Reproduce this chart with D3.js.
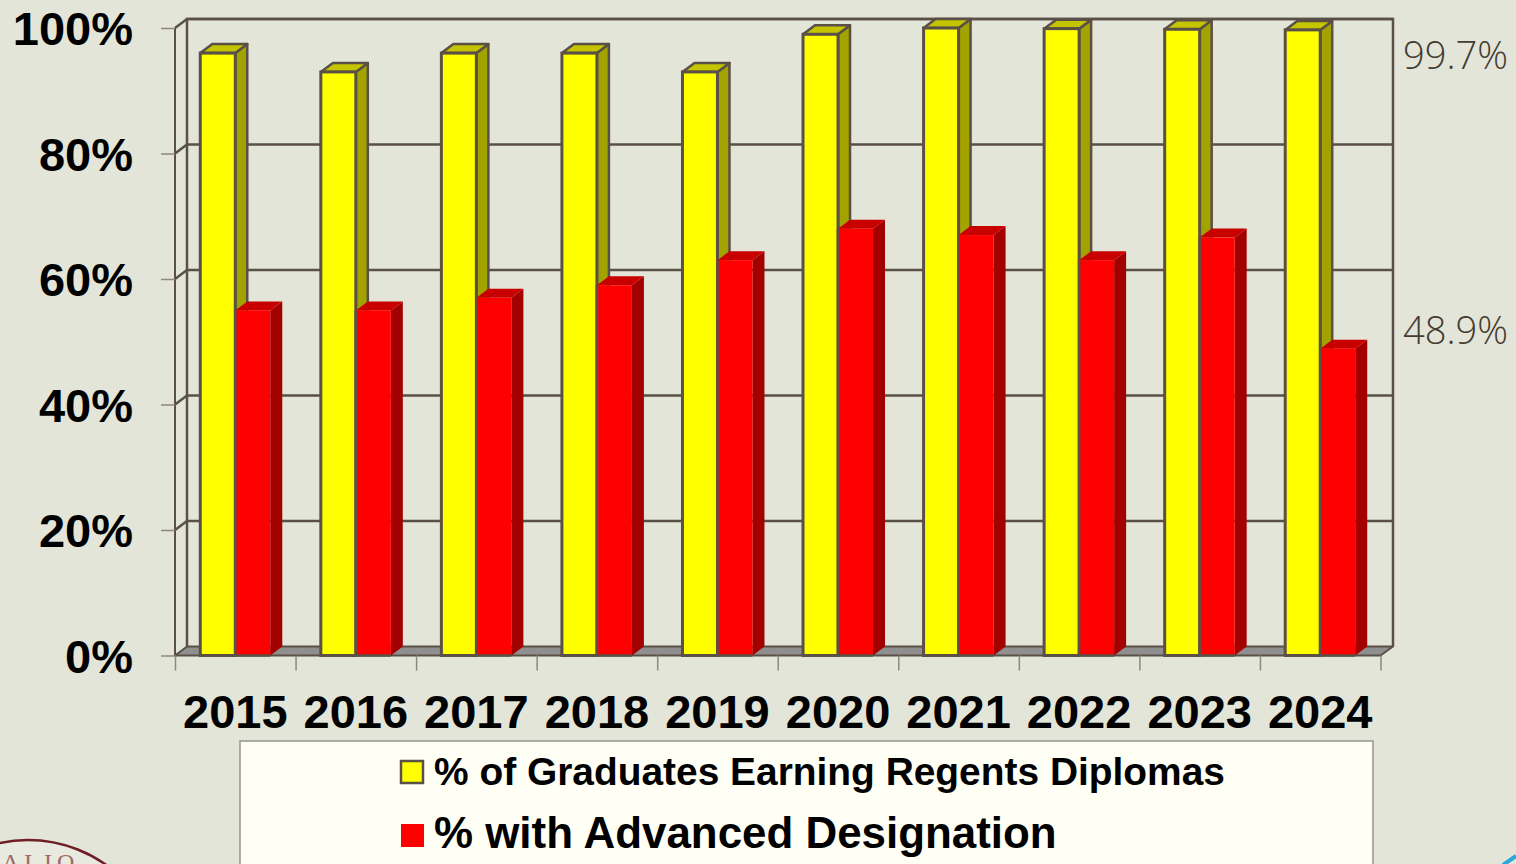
<!DOCTYPE html>
<html>
<head>
<meta charset="utf-8">
<script src="https://cdn.jsdelivr.net/npm/d3@7"></script>
<style>
  html, body { margin: 0; padding: 0; background: #E3E5D9; overflow: hidden; }
  svg { display: block; }
  text { font-family: "Liberation Sans", Arial, sans-serif; }
</style>
</head>
<body>
<svg id="chart" width="1516" height="864"></svg>
<script>
// Values
const years     = ['2015','2016','2017','2018','2019','2020','2021','2022','2023','2024'];
const regents   = [96, 93, 96, 96, 93, 99, 100, 99.9, 99.8, 99.7];
const advanced  = [55, 55, 57, 59, 63, 68, 67, 63, 66.6, 48.9];
const yTicks    = [0, 20, 40, 60, 80, 100];
const endLabels = ['99.7%', '48.9%'];
const legendRows = ['% of Graduates Earning Regents Diplomas', '% with Advanced Designation'];

const LINE = '#5A5046';
const DX = 12, DY = -9;   // 3D depth offset
const BAR_W = 35;

const svg = d3.select('#chart');

const x = d3.scaleBand().domain(years).range([175, 1380.5]);
const y = d3.scaleLinear().domain([0, 100]).range([655.5, 28]);

// ── Walls and floor ───────────────────────────────────────────────────────
const yFloor = y(0), yTop = y(100);
const grid = svg.append('g');

grid.selectAll('.wall').data(yTicks.slice(1)).enter().append('path')
  .attr('class', 'wall').attr('fill', 'none').attr('stroke', LINE).attr('stroke-width', 2.5)
  .attr('d', d => `M175,${y(d)}L${175 + DX},${y(d) + DY}L${1381 + DX},${y(d) + DY}`);

grid.append('path')
  .attr('fill', '#8F8F8F').attr('stroke', LINE).attr('stroke-width', 2)
  .attr('stroke-linejoin', 'round')
  .attr('d', `M175,${yFloor}L${175 + DX},${yFloor + DY}L${1381 + DX},${yFloor + DY}L1380.5,${yFloor}Z`);

grid.append('path')
  .attr('fill', 'none').attr('stroke', LINE).attr('stroke-width', 2.5)
  .attr('d', `M${175 + DX},${yFloor + DY}V${yTop + DY}H${1381 + DX}V${yFloor + DY}`);

grid.append('path')
  .attr('fill', 'none').attr('stroke', LINE).attr('stroke-width', 2)
  .attr('d', `M175,${yFloor}V${yTop}`);

// ── Axes ──────────────────────────────────────────────────────────────────
const yAxis = d3.axisLeft(y).tickValues(yTicks).tickFormat(d => d + '%').tickSize(14).tickPadding(28);
const xAxis = d3.axisBottom(x).tickSize(0).tickPadding(39);

const gy = svg.append('g').attr('transform', 'translate(175,0)').call(yAxis);
const gx = svg.append('g').attr('transform', `translate(0,${yFloor})`).call(xAxis);
[gy, gx].forEach(g => {
  g.select('.domain').remove();
  g.selectAll('line').attr('stroke', '#8C887C').attr('stroke-width', 1.5);
  g.selectAll('text').attr('fill', '#000').attr('font-size', 47).attr('font-weight', 700);
});
gy.selectAll('text').attr('dy', '0.355em');
gx.selectAll('text').attr('dy', '0.71em');

// x ticks sit on the band edges, not the band centres
svg.append('g').selectAll('line').data(years.concat('end')).enter().append('line')
  .attr('x1', (d, i) => 175.5 + i * x.bandwidth())
  .attr('x2', (d, i) => 175.5 + i * x.bandwidth())
  .attr('y1', yFloor).attr('y2', yFloor + 15)
  .attr('stroke', '#8C887C').attr('stroke-width', 1.5);

// ── Bars ──────────────────────────────────────────────────────────────────
function bars(values, offset, colors, stroke) {
  const g = svg.append('g').selectAll('g').data(values).enter().append('g');
  const x0 = (d, i) => x(years[i]) + x.bandwidth() / 2 + offset;

  g.append('path').attr('fill', colors.side).attr('stroke', stroke).attr('stroke-width', 2.5)
    .attr('stroke-linejoin', 'round')
    .attr('d', (d, i) => {
      const r = x0(d, i) + BAR_W;
      return `M${r},${yFloor}L${r + DX},${yFloor + DY}V${y(d) + DY}L${r},${y(d)}Z`;
    });
  g.append('path').attr('fill', colors.top).attr('stroke', stroke).attr('stroke-width', 2.5)
    .attr('stroke-linejoin', 'round')
    .attr('d', (d, i) => {
      const l = x0(d, i);
      return `M${l},${y(d)}L${l + DX},${y(d) + DY}H${l + BAR_W + DX}L${l + BAR_W},${y(d)}Z`;
    });
  g.append('rect').attr('fill', colors.front).attr('stroke', stroke).attr('stroke-width', 3)
    .attr('x', x0).attr('width', BAR_W)
    .attr('y', d => y(d)).attr('height', d => yFloor - y(d));
}
bars(regents, -35, { front: '#FFFF00', top: '#C4C400', side: '#A3A300' }, LINE);
bars(advanced, 0, { front: '#FF0000', top: '#C80000', side: '#A30000' }, 'none');
// dark edge along the foot of the red bars
svg.append('g').selectAll('path').data(advanced).enter().append('path')
  .attr('fill', 'none').attr('stroke', LINE).attr('stroke-width', 2.5)
  .attr('d', (d, i) => {
    const c = x(years[i]) + x.bandwidth() / 2;
    return `M${c},${y(d)}V${yFloor}H${c + BAR_W}`;
  });

// ── End labels ────────────────────────────────────────────────────────────
svg.append('g').selectAll('text').data(endLabels).enter().append('text')
  .attr('x', 1403).attr('y', (d, i) => [69, 344][i])
  .attr('font-size', 39).attr('font-weight', 300).attr('fill', '#443C32')
  .style('font-family', '"Open Sans", "Noto Sans", sans-serif')
  .attr('textLength', 105).attr('lengthAdjust', 'spacingAndGlyphs')
  .text(d => d);

// ── Legend ────────────────────────────────────────────────────────────────
svg.append('rect')
  .attr('x', 240).attr('y', 741).attr('width', 1133).attr('height', 140)
  .attr('fill', '#FFFFF5').attr('stroke', '#98948A').attr('stroke-width', 1.5);

svg.append('rect').attr('x', 401).attr('y', 761).attr('width', 22).attr('height', 22)
  .attr('fill', '#FFFF00').attr('stroke', LINE).attr('stroke-width', 2.5);
svg.append('rect').attr('x', 401).attr('y', 824).attr('width', 23).attr('height', 23)
  .attr('fill', '#FF0000');

svg.selectAll('.legend-label').data(legendRows).enter().append('text')
  .attr('class', 'legend-label')
  .attr('x', 434).attr('y', (d, i) => [785, 848][i])
  .attr('font-size', (d, i) => [38.9, 43.9][i]).attr('font-weight', 700).attr('fill', '#000')
  .text(d => d);

// ── Page furniture cut by the frame ───────────────────────────────────────
svg.append('circle').attr('cx', 28).attr('cy', 975).attr('r', 135)
  .attr('fill', '#FFFFFF').attr('fill-opacity', 0.2)
  .attr('stroke', '#6E1F24').attr('stroke-width', 2.5);
svg.append('text').attr('x', 2).attr('y', 870).attr('font-size', 24)
  .attr('fill', '#A06A66').style('font-family', '"Liberation Serif", serif')
  .attr('letter-spacing', 5).text('ALIO');
svg.append('path').attr('fill', 'none').attr('stroke', '#2BA9D8').attr('stroke-width', 4)
  .attr('d', 'M1503,865L1516,856');
</script>
</body>
</html>
